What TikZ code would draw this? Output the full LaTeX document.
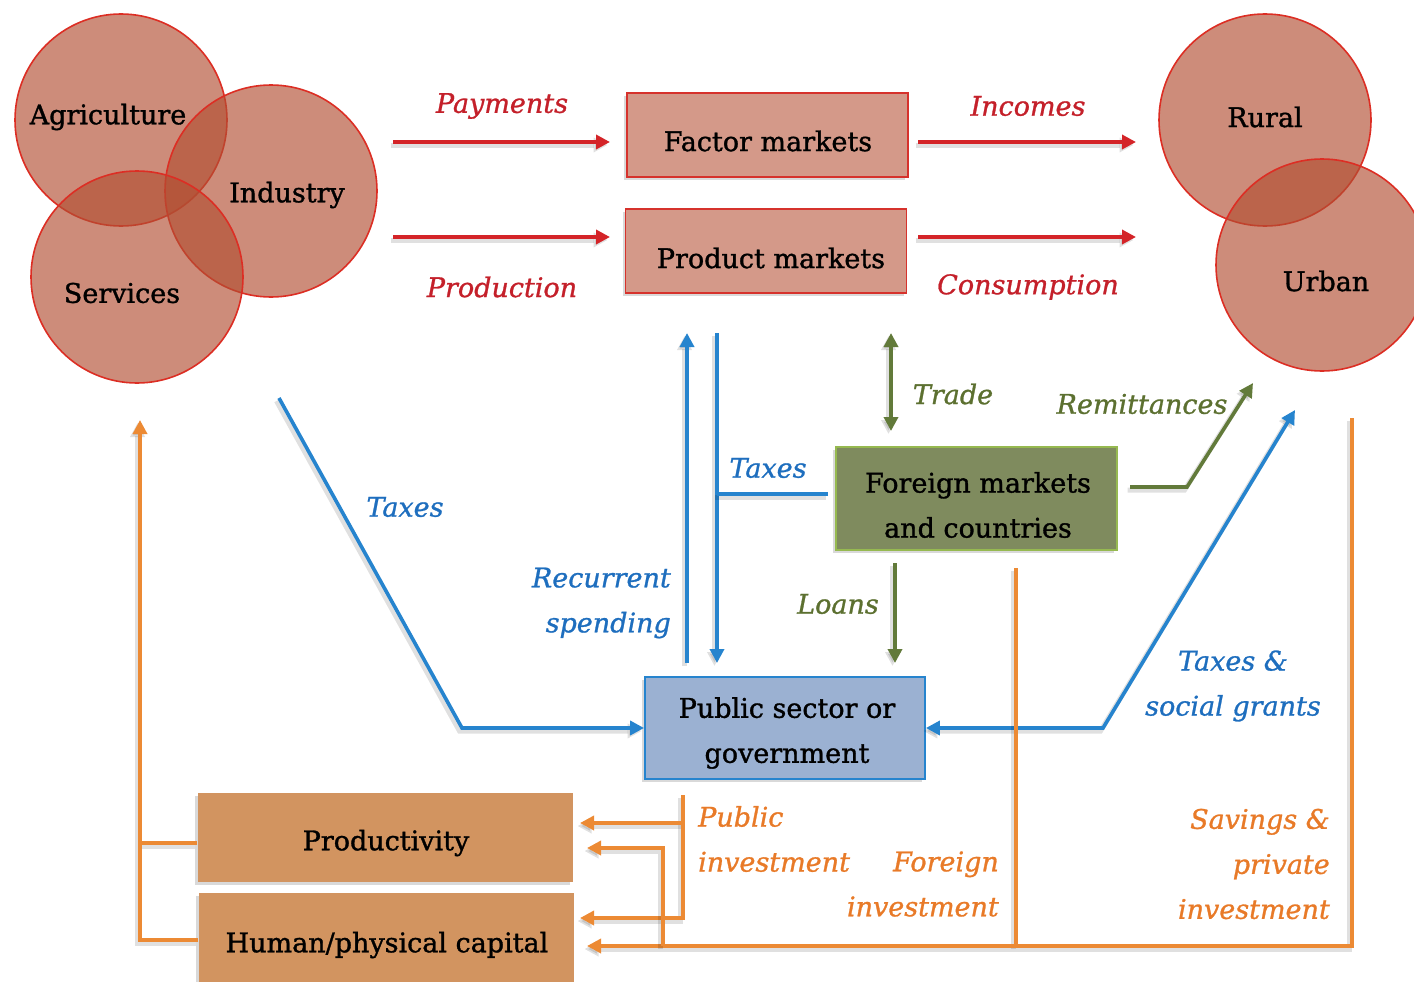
\documentclass[tikz,border=0pt]{standalone}
\usepackage{fontspec}
\setmainfont{DejaVu Serif}
\usetikzlibrary{arrows.meta,shadows,calc}

\definecolor{redline}{RGB}{212,36,40}
\definecolor{redtext}{RGB}{196,32,42}
\definecolor{circfill}{RGB}{178,78,50}
\definecolor{circline}{RGB}{220,46,36}
\definecolor{mktfill}{RGB}{212,153,137}
\definecolor{mktline}{RGB}{214,50,44}
\definecolor{olivefill}{RGB}{127,139,94}
\definecolor{oliveline}{RGB}{150,185,80}
\definecolor{greenline}{RGB}{98,122,58}
\definecolor{greentext}{RGB}{92,112,48}
\definecolor{bluefill}{RGB}{155,177,210}
\definecolor{blueline}{RGB}{38,132,206}
\definecolor{bluetext}{RGB}{30,110,190}
\definecolor{orangefill}{RGB}{210,148,96}
\definecolor{orangeline}{RGB}{236,138,52}
\definecolor{orangetext}{RGB}{232,122,40}

\newfontfamily\boxfont[FakeBold=1.2]{DejaVu Serif}
\newfontfamily\labelfont[FakeBold=1.0]{DejaVu Serif Italic}

\tikzset{
  txt/.style={font=\fontsize{27}{45}\boxfont, inner sep=0pt, align=center},
  lbl/.style={font=\fontsize{27}{45}\labelfont, inner sep=0pt},
  sector/.style={circle, minimum size=212pt, inner sep=0pt,
    fill=circfill, fill opacity=0.65, draw=circline, line width=1.6pt},
  boxshadow/.style={drop shadow={shadow xshift=-3pt, shadow yshift=-3pt, opacity=0.3}},
  mktbox/.style={rectangle, fill=mktfill, draw=mktline, line width=1.8pt,
    minimum width=281pt, minimum height=84pt, boxshadow},
  foreignbox/.style={rectangle, fill=olivefill, draw=oliveline, line width=1.5pt,
    minimum width=281pt, minimum height=103pt, boxshadow},
  govbox/.style={rectangle, fill=bluefill, draw=blueline, line width=1.8pt,
    minimum width=280pt, minimum height=102pt, boxshadow},
  capbox/.style={rectangle, fill=orangefill, minimum width=375pt,
    minimum height=89pt, boxshadow},
  lineshadow/.style={preaction={draw=black, opacity=0.12, line width=5pt,
    transform canvas={shift={(-2.5pt,-3pt)}}}},
  tip/.style={-{Triangle[length=14pt,width=14pt]}},
  tips/.style={{Triangle[length=14pt,width=14pt]}-{Triangle[length=14pt,width=14pt]}},
  redarrow/.style={draw=redline, line width=4pt, tip, lineshadow},
  bluel/.style={draw=blueline, line width=3.6pt, lineshadow},
  greenl/.style={draw=greenline, line width=3.6pt, lineshadow},
  orangel/.style={draw=orangeline, line width=3.4pt, lineshadow},
}

\begin{document}
\begin{tikzpicture}[x=1pt, y=-1pt]
\useasboundingbox (0,0) rectangle (1414,982);

% sectors of the economy
\node[sector] (agri) at (121,120) {};
\node[sector] (ind) at (271,191) {};
\node[sector] (serv) at (137,277) {};
\node[txt] (agriT) at (108,117) {Agriculture};
\node[txt] (indT) at (287,195) {Industry};
\node[txt] (servT) at (122,293) {Services};

% households
\node[sector] (rural) at (1265,120) {};
\node[sector] (urban) at (1322,265) {};
\node[txt] (ruralT) at (1265,117) {Rural};
\node[txt] (urbanT) at (1326,281) {Urban};

% markets
\node[mktbox] (factor) at (767.5,135) {};
\node[txt] (factorT) at (768,141) {Factor markets};
\node[mktbox] (product) at (766,251) {};
\node[txt] (productT) at (771,258) {Product markets};

\node[foreignbox] (foreign) at (976.5,498.5) {};
\node[txt] (foreignT) at (978,505) {Foreign markets\\and countries};

\node[govbox] (gov) at (785,728) {};
\node[txt] (govT) at (787,733) {Public sector or\\government};

\node[capbox] (prod) at (385,837.5) {};
\node[txt] (prodT) at (386,843) {Productivity};
\node[capbox, minimum height=100pt] (cap) at (386,943) {};
\node[txt] (capT) at (387,945) {Human/physical capital};

% factor and product flows
\coordinate (payS) at (393,142);   \coordinate (payE) at (610,142);
\coordinate (proS) at (393,237);   \coordinate (proE) at (610,237);
\coordinate (incS) at (918,142);   \coordinate (incE) at (1136,142);
\coordinate (conS) at (918,237);   \coordinate (conE) at (1136,237);
\draw[redarrow] (payS) -- (payE);
\draw[redarrow] (proS) -- (proE);
\draw[redarrow] (incS) -- (incE);
\draw[redarrow] (conS) -- (conE);
\node[lbl, text=redtext] (payL) at (502,106) {Payments};
\node[lbl, text=redtext] (proL) at (502,287) {Production};
\node[lbl, text=redtext] (incL) at (1028,106) {Incomes};
\node[lbl, text=redtext] (conL) at (1028,287) {Consumption};

% government flows
\coordinate (spendB) at (687,663); \coordinate (spendT) at (687,333);
\coordinate (taxT) at (717,333);   \coordinate (taxB) at (717,663);
\coordinate (taxJ) at (717,494);   \coordinate (taxF) at (828,494);
\draw[bluel, tip] (spendB) -- (spendT);
\draw[bluel, tip] (taxT) -- (taxB);
\draw[bluel] (taxF) -- (taxJ);
\node[lbl, text=bluetext] (taxL1) at (768,468) {Taxes};
\node[lbl, text=bluetext, align=right, anchor=east] (spendL) at (671,603) {Recurrent\\spending};

\coordinate (ltax1) at (279,398); \coordinate (ltax2) at (462,728);
\draw[bluel, tip] (ltax1) -- (ltax2) -- (gov.west);
\node[lbl, text=bluetext] (taxL2) at (405,507) {Taxes};

\coordinate (rtax1) at (1295,410); \coordinate (rtax2) at (1103,728);
\draw[bluel, tips] (rtax1) -- (rtax2) -- (gov.east);
\node[lbl, text=bluetext, align=center] (grantL) at (1233,686) {Taxes \&\\social grants};

% foreign flows
\coordinate (tradeT) at (891,333); \coordinate (tradeB) at (891,431);
\draw[greenl, tips] (tradeT) -- (tradeB);
\node[lbl, text=greentext] (tradeL) at (953,394) {Trade};

\coordinate (loanT) at (895,563); \coordinate (loanB) at (895,663);
\draw[greenl, tip] (loanT) -- (loanB);
\node[lbl, text=greentext] (loanL) at (838,604) {Loans};

\coordinate (remS) at (1130,487); \coordinate (remK) at (1187,487);
\coordinate (remE) at (1253,383);
\draw[greenl, tip] (remS) -- (remK) -- (remE);
\node[lbl, text=greentext] (remL) at (1142,404) {Remittances};

% investment flows
\coordinate (pubT) at (683,795); \coordinate (pubB) at (683,918);
\coordinate (pubJ) at (683,823);
\coordinate (pubA1) at (580,823); \coordinate (pubA2) at (580,918);
\draw[orangel, tip] (pubT) -- (pubB) -- (pubA2);
\draw[orangel, tip] (pubJ) -- (pubA1);
\node[lbl, text=orangetext, align=left, anchor=west] (pubL) at (698,839) {Public\\investment};

\coordinate (forT) at (1016,568); \coordinate (forB) at (1016,946);
\draw[orangel] (forT) -- (forB);
\coordinate (savT) at (1352,418); \coordinate (savB) at (1352,946);
\coordinate (botA) at (587,946);
\draw[orangel, tip] (savT) -- (savB) -- (botA);
\coordinate (brB) at (663,946); \coordinate (brK) at (663,848);
\coordinate (brA) at (587,848);
\draw[orangel, tip] (brB) -- (brK) -- (brA);
\node[lbl, text=orangetext, align=right, anchor=east] (forL) at (999,884) {Foreign\\investment};
\node[lbl, text=orangetext, align=right, anchor=east] (savL) at (1330,864) {Savings \&\\private\\investment};

% feedback to the sectors
\coordinate (fbP) at (140,843); \coordinate (fbC) at (140,940);
\coordinate (fbT) at (140,420);
\draw[orangel] (prod.west |- fbP) -- (fbP);
\draw[orangel, tip] (cap.west |- fbC) -- (fbC) -- (fbT);
\end{tikzpicture}
\end{document}
